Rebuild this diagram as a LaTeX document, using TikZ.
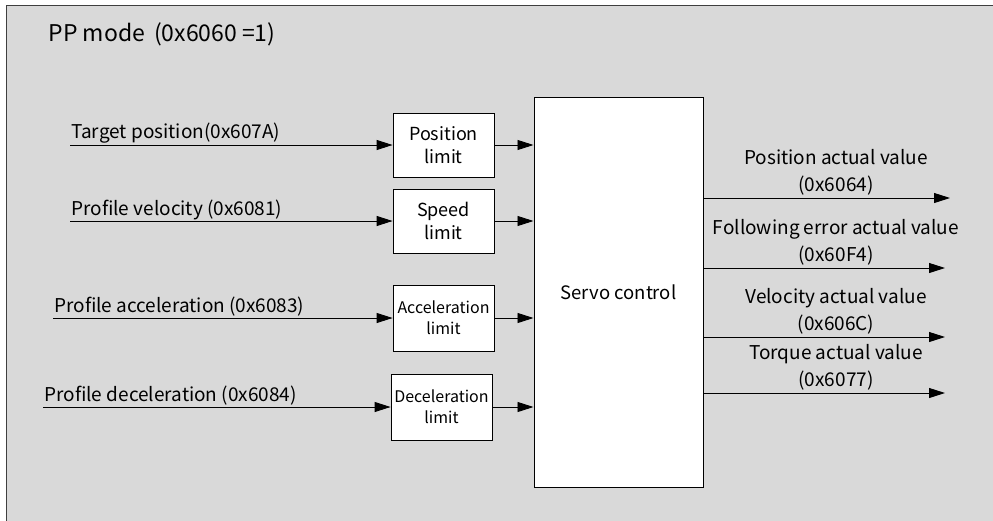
\documentclass[tikz,border=0pt]{standalone}
\usepackage{fontspec}
\setmainfont{Noto Sans CJK SC}
\usetikzlibrary{arrows.meta}

\definecolor{panelgray}{HTML}{D9D9D9}
\definecolor{framegray}{HTML}{3F3F3F}

\tikzset{
  limitbox/.style={draw, fill=white, line width=0.8pt, minimum width=101pt, minimum height=64pt,
    align=center, inner sep=1pt, font=\fontsize{18}{23}\selectfont},
  smalltext/.style={font=\fontsize{16}{21}\selectfont},
  sig/.style={-{Triangle[length=16pt,width=10pt]}, line width=0.9pt},
  siglabel/.style={inner sep=1pt, font=\fontsize{19}{27}\selectfont},
}

\begin{document}
\begin{tikzpicture}[x=1pt, y=-1pt]
            \useasboundingbox (0,0) rectangle (993,520);
            \clip (0,0) rectangle (993,520);
            \draw[fill=panelgray, draw=framegray, line width=1.5pt] (6.5,5.5) rectangle (1010,540);
            \node[anchor=west, font=\fontsize{23}{27}\selectfont] (title) at (45,34) {PP mode\, (0x6060 =1)};

            % servo block and limit blocks
            \node[draw, fill=white, line width=1pt, minimum width=169pt, minimum height=390pt,
              font=\fontsize{18.5}{22}\selectfont] (servo) at (618.5,292) {Servo control};
            \node[limitbox] (poslim) at (443.5,145) {Position\\limit};
            \node[limitbox] (spdlim) at (443.5,221) {Speed\\limit};
            \node[limitbox, smalltext, minimum height=66pt] (acclim) at (443.5,318) {Acceleration\\limit};
            \node[limitbox, smalltext, minimum height=66pt] (declim) at (441.5,407) {Deceleration\\limit};

            % inputs
            \coordinate (inpos) at (70,145);
            \coordinate (inspd) at (70,221);
            \coordinate (inacc) at (53,318);
            \coordinate (indec) at (43,407);
            \draw[sig] (inpos) node[above right, siglabel]{Target position(0x607A)} -- (poslim.west);
            \draw[sig] (inspd) node[above right, siglabel]{Profile velocity (0x6081)} -- (spdlim.west);
            \draw[sig] (inacc) node[above right, siglabel]{Profile acceleration (0x6083)} -- (acclim.west);
            \draw[sig] (indec) node[above right, siglabel]{Profile deceleration (0x6084)} -- (declim.west);

            % limits to servo
            \draw[sig] (poslim.east) -- (poslim.east -| servo.west);
            \draw[sig] (spdlim.east) -- (spdlim.east -| servo.west);
            \draw[sig] (acclim.east) -- (acclim.east -| servo.west);
            \draw[sig] (declim.east) -- (declim.east -| servo.west);

            % outputs
            \coordinate (outpos) at (950,198);
            \coordinate (outerr) at (945,268);
            \coordinate (outvel) at (945,337);
            \coordinate (outtrq) at (945,393);
            \draw[sig] (outpos -| servo.east) -- (outpos);
            \draw[sig] (outerr -| servo.east) -- (outerr);
            \draw[sig] (outvel -| servo.east) -- (outvel);
            \draw[sig] (outtrq -| servo.east) -- (outtrq);
            \node[siglabel, align=center, anchor=south] (lblpos) at (836,196) {Position actual value\\(0x6064)};
            \node[siglabel, align=center, anchor=south] (lblerr) at (836,266) {Following error actual value\\(0x60F4)};
            \node[siglabel, align=center, anchor=south] (lblvel) at (836,335) {Velocity actual value\\(0x606C)};
            \node[siglabel, align=center, anchor=south] (lbltrq) at (836,391) {Torque actual value\\(0x6077)};
        \end{tikzpicture}
\end{document}
